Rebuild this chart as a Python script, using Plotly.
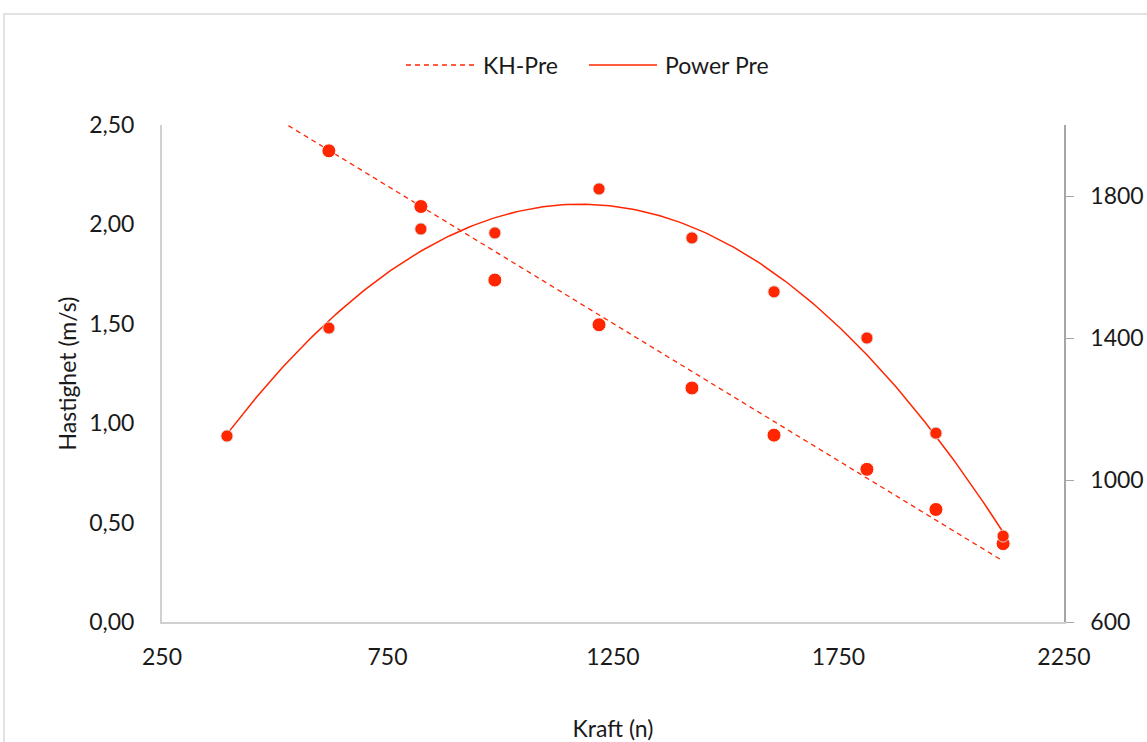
import numpy as np
import plotly.graph_objects as go

# Force (N) for each test load
kraft = [394, 620, 824, 988, 1219, 1425, 1607, 1813, 1966, 2115]
# Mean velocity (m/s) at each load
hastighet = [2.85, 2.37, 2.09, 1.72, 1.495, 1.177, 0.94, 0.768, 0.566, 0.394]
# Power (W) at each load
power = [1124, 1428, 1707, 1696, 1820, 1682, 1530, 1400, 1132, 842]

series_names = ["KH-Pre", "Power Pre"]

RED = "#FF2600"
FONT = "Lato, 'Open Sans', sans-serif"
FS = 23
DASH = "5px,4px"

# Trendlines: linear for force-velocity, quadratic for power
k_lin = np.polyfit(kraft, hastighet, 1)
k_quad = np.polyfit(kraft, power, 2)
x_fit = np.linspace(min(kraft), max(kraft), 200)

fig = go.Figure()

fig.add_trace(go.Scatter(
    x=x_fit, y=np.polyval(k_lin, x_fit), mode="lines", name=series_names[0],
    line=dict(color=RED, width=1.3, dash=DASH), yaxis="y", showlegend=False,
))
fig.add_trace(go.Scatter(
    x=kraft, y=hastighet, mode="markers", showlegend=False, yaxis="y",
    marker=dict(color=RED, size=14, line=dict(color="white", width=1)),
))
fig.add_trace(go.Scatter(
    x=x_fit, y=np.polyval(k_quad, x_fit), mode="lines", name=series_names[1],
    line=dict(color=RED, width=1.5), yaxis="y2", showlegend=False,
))
fig.add_trace(go.Scatter(
    x=kraft, y=power, mode="markers", showlegend=False, yaxis="y2",
    marker=dict(color=RED, size=12, line=dict(color="rgba(215,215,215,0.9)", width=1)),
))

# Legend row above the plot: line sample followed by its label
LEG_Y = 1.1207
legend_items = [
    (series_names[0], DASH, 0.2705, 0.3459, 0.3537),
    (series_names[1], "solid", 0.4734, 0.5488, 0.5554),
]
shapes = [dict(
    type="rect", xref="paper", yref="paper",
    x0=-0.1752, y0=-0.26, x1=1.1, y1=1.2233,
    line=dict(color="#d9d9d9", width=1.5), fillcolor="rgba(0,0,0,0)", layer="below",
)]
annotations = []
for name, dash, xa, xb, xt in legend_items:
    shapes.append(dict(type="line", xref="paper", yref="paper", x0=xa, x1=xb,
                       y0=LEG_Y, y1=LEG_Y, line=dict(color=RED, width=1.5, dash=dash)))
    annotations.append(dict(text=name, xref="paper", yref="paper", x=xt, y=LEG_Y,
                            xanchor="left", yanchor="middle", showarrow=False,
                            font=dict(size=FS)))

fig.update_layout(
    width=1147, height=742,
    margin=dict(l=162, r=83, t=125, b=120),
    paper_bgcolor="white", plot_bgcolor="white",
    separators=", ",
    font=dict(family=FONT, size=FS, color="#1a1a1a"),
    showlegend=False,
    xaxis=dict(
        range=[250, 2250], tick0=250, dtick=500, showgrid=False, zeroline=False,
        showline=True, linecolor="#d0d0d0", linewidth=2, ticks="",
        tickfont=dict(size=FS), ticklabelstandoff=13, automargin=False,
        title=dict(text="Kraft (n)", font=dict(size=FS), standoff=58),
    ),
    yaxis=dict(
        range=[0, 2.5], tick0=0, dtick=0.5, tickformat=".2f", showgrid=False,
        zeroline=False, showline=True, linecolor="#d0d0d0", linewidth=2, ticks="",
        tickfont=dict(size=FS), ticklabelstandoff=21, automargin=False,
        title=dict(text="Hastighet (m/s)", font=dict(size=FS), standoff=6),
    ),
    yaxis2=dict(
        range=[600, 2000], tick0=600, dtick=400, overlaying="y", side="right",
        showgrid=False, zeroline=False, showline=True, linecolor="#a6a6a6",
        linewidth=1.5, ticks="outside", ticklen=8, tickcolor="#a6a6a6",
        tickfont=dict(size=FS), ticklabelstandoff=12, automargin=False,
    ),
    shapes=shapes,
    annotations=annotations,
)

fig.write_html("out.html")
